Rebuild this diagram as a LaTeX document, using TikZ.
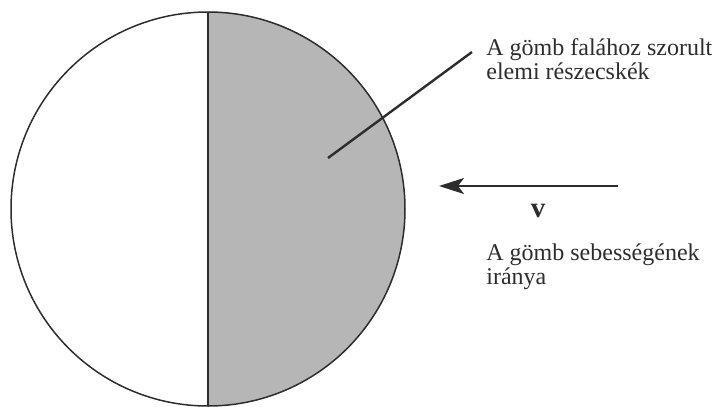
\documentclass[tikz,border=0pt]{standalone}
\usepackage{fontspec}
\setmainfont{Liberation Serif}
\usepackage{xcolor}
\usetikzlibrary{calc,arrows.meta}
\definecolor{halfgray}{RGB}{182,182,182}
\definecolor{inkgray}{RGB}{45,45,45}
\tikzset{lbl/.style={anchor=base west, inner sep=0pt, align=left, text=inkgray,
  font=\fontsize{12}{11.6}\selectfont}}

\begin{document}
\begin{tikzpicture}[x=0.5pt, y=-0.5pt]
\useasboundingbox (0,0) rectangle (713,407);
\node[circle, minimum size=197pt, inner sep=0pt] (ball) at (208,209) {};
\fill[halfgray] (ball.north) arc[start angle=90, end angle=-90, radius=98.5pt] -- cycle;
\draw[inkgray, line width=0.7pt] (ball.north) -- (ball.south);
\draw[inkgray, line width=0.75pt] (ball) circle (98.5pt);
% labels (base = last line)
\node[lbl] (wall) at (486,79) {A gömb falához szorult\\elemi részecskék};
\node[lbl] (dir) at (486,284) {A gömb sebességének\\iránya};
\coordinate (inside) at (328,158);
\coordinate (lead) at (472,52);
\draw[inkgray, line width=1.2pt] (inside) -- (lead);
\coordinate (vtail) at (618,186);
\coordinate (vhead) at (439,186);
\draw[inkgray, line width=1.2pt, -{Stealth[length=12.5pt, width=8pt, inset=3pt]}] (vtail) -- (vhead);
\node[text=inkgray, font=\fontsize{14.5}{15}\selectfont\bfseries, anchor=base, inner sep=0pt] (vel) at (538,217) {v};
\end{tikzpicture}
\end{document}
